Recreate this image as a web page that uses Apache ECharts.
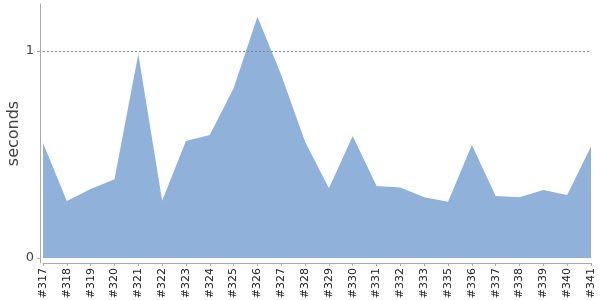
<!DOCTYPE html>
<html>
<head>
<meta charset="utf-8">
<script src="https://cdn.jsdelivr.net/npm/echarts@6/dist/echarts.min.js"></script>
<style>html,body{margin:0;padding:0;background:#fff}#c{width:600px;height:300px}</style>
</head>
<body>
<div id="c"></div>
<script>
const builds = ['#317','#318','#319','#320','#321','#322','#323','#324','#325','#326','#327','#328','#329','#330','#331','#332','#333','#335','#336','#337','#338','#339','#340','#341'];
const seconds = [0.556,0.275,0.333,0.380,0.986,0.277,0.565,0.594,0.820,1.166,0.884,0.562,0.337,0.589,0.348,0.341,0.293,0.272,0.546,0.300,0.293,0.329,0.304,0.538];
const yTicks = [0, 1];
const refLine = 1;

const chart = echarts.init(document.getElementById('c'), null, {renderer: 'canvas'});
chart.setOption({
  animation: false,
  grid: {left: 43, right: 9, top: 4, bottom: 37, outerBoundsMode: 'none'},
  xAxis: {
    type: 'category',
    data: builds,
    boundaryGap: false,
    axisLine: {onZero: false, lineStyle: {color: '#aaaaaa', width: 1}},
    axisTick: {show: true, length: 3, interval: 0, lineStyle: {color: '#aaaaaa'}},
    axisLabel: {rotate: 90, interval: 0, fontSize: 11, margin: 5, color: '#222', fontFamily: 'DejaVu Sans'},
    splitLine: {show: false}
  },
  yAxis: {
    type: 'value',
    min: -0.0242,
    max: 1.227,
    offset: 3,
    name: 'seconds',
    nameLocation: 'middle',
    nameGap: 18,
    nameMoveOverlap: false,
    nameTextStyle: {fontSize: 16, color: '#444', fontFamily: 'DejaVu Sans'},
    axisLine: {show: true, lineStyle: {color: '#aaaaaa', width: 1}},
    axisTick: {show: true, length: 3, customValues: yTicks, lineStyle: {color: '#aaaaaa'}},
    axisLabel: {customValues: yTicks, fontSize: 13, margin: 6, color: '#444', fontFamily: 'DejaVu Sans'},
    splitLine: {show: false}
  },
  series: [{
    type: 'line',
    data: seconds,
    symbol: 'none',
    lineStyle: {width: 0, color: '#8fb1da'},
    itemStyle: {color: '#8fb1da'},
    areaStyle: {color: '#8fb1da', opacity: 1},
    markLine: {
      silent: true,
      symbol: 'none',
      label: {show: false},
      lineStyle: {color: '#888888', type: [2, 2], width: 1},
      data: [{yAxis: refLine}]
    }
  }]
});
</script>
</body>
</html>
